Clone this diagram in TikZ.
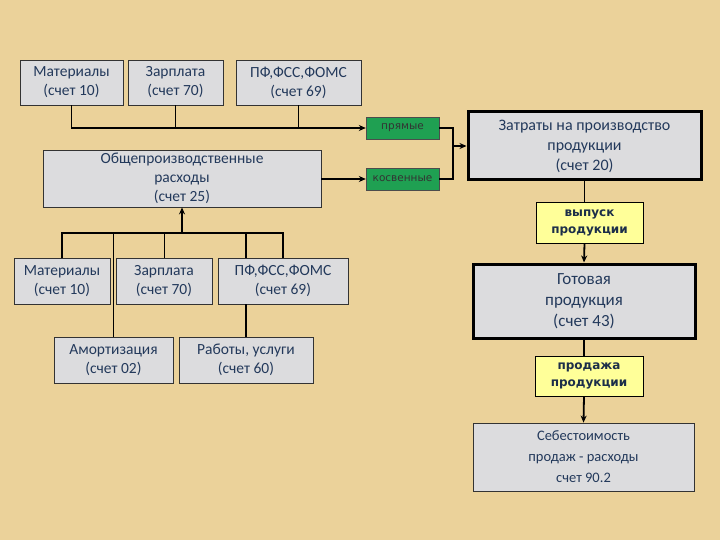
\documentclass[tikz,border=0pt]{standalone}
\usepackage{fontspec}
\setmainfont{Carlito}
\newfontfamily\flowfont{DejaVu Sans}
\definecolor{ledgerPaper}{HTML}{EBD29A}
\definecolor{ledgerGray}{HTML}{DCDCDE}
\definecolor{ledgerInk}{HTML}{23395B}
\definecolor{ledgerGreen}{HTML}{1FA052}
\definecolor{ledgerYellow}{HTML}{FFFF99}
\usetikzlibrary{arrows.meta, positioning}

\begin{document}
\begin{tikzpicture}[
        x=1pt, y=-1pt,
        acct/.style={
          draw=black!80,
          fill=ledgerGray,
          text=ledgerInk,
          align=center,
          inner sep=0pt,
          line width=0.8pt,
          font=\fontsize{15.5}{19}\selectfont,
        },
        mainacct/.style={acct, draw=black, line width=3pt},
        costkind/.style={
          draw=black!70,
          fill=ledgerGreen,
          text=black!80,
          minimum width=73pt,
          minimum height=22pt,
          inner sep=0pt,
          font=\flowfont\fontsize{10.5}{12}\selectfont,
        },
        flowlabel/.style={acct, fill=ledgerYellow, draw=black, text=ledgerInk!80!black, font=\flowfont\bfseries\fontsize{12}{17}\selectfont},
        wire/.style={line width=1.8pt},
        thinwire/.style={line width=1pt},
        arr/.style={wire, -{Stealth[length=7pt, width=6pt]}},
      ]
        \fill[ledgerPaper] (0,0) rectangle (720,540);

        \node[acct, minimum width=103pt, minimum height=45pt] (mat1) at (71.5,82.5) {Материалы\\(счет 10)};
        \node[acct, minimum width=95pt, minimum height=45pt] (zp1) at (175.5,82.5) {Зарплата\\(счет 70)};
        \node[acct, minimum width=125pt, minimum height=45pt] (pf1) at (298.5,82.5) {ПФ,ФСС,ФОМС\\(счет 69)};

        \node[acct, minimum width=278pt, minimum height=57pt] (opr) at (182,178.5) {Общепроизводственные\\расходы\\(счет 25)};

        \node[costkind] (direct) at (402.5,128) {прямые};
        \node[costkind] (indirect) at (402.5,179) {косвенные};

        \node[mainacct, minimum width=233pt, minimum height=68pt, font=\fontsize{16}{20}\selectfont] (cost20) at (584.5,146) {Затраты на производство\\продукции\\(счет 20)};
        \node[flowlabel, minimum width=107pt, minimum height=41pt] (release) at (589.5,222.5) {выпуск\\продукции};
        \node[mainacct, minimum width=222pt, minimum height=74pt, font=\fontsize{17}{21}\selectfont] (fin43) at (584,301) {Готовая\\продукция\\(счет 43)};
        \node[flowlabel, minimum width=108pt, minimum height=40pt] (sale) at (589,376) {продажа\\продукции};
        \node[acct, minimum width=221pt, minimum height=68pt, font=\fontsize{14.5}{21}\selectfont] (cogs) at (583.5,457) {Себестоимость\\продаж - расходы\\счет 90.2};

        \node[acct, minimum width=96pt, minimum height=46pt] (mat2) at (62,281) {Материалы\\(счет 10)};
        \node[acct, minimum width=96pt, minimum height=46pt] (zp2) at (164,281) {Зарплата\\(счет 70)};
        \node[acct, minimum width=130pt, minimum height=46pt] (pf2) at (283,281) {ПФ,ФСС,ФОМС\\(счет 69)};
        \node[acct, minimum width=119pt, minimum height=46pt] (amort) at (113.5,360) {Амортизация\\(счет 02)};
        \node[acct, minimum width=134pt, minimum height=46pt] (works) at (246,360) {Работы, услуги\\(счет 60)};

        \coordinate (merge) at (453,146);
        \coordinate (gather) at (182,233);

        \draw[arr] (mat1.south) |- (direct.west);
        \draw[wire] (zp1.south) -- (zp1.south |- direct.west);
        \draw[thinwire] (pf1.south) -- (pf1.south |- direct.west);
        \draw[arr] (opr.east |- indirect.west) -- (indirect.west);
        \draw[thinwire, line width=1.3pt] (direct.east) -| (merge) |- (indirect.east);
        \draw[arr, line width=1.3pt] (merge) -- (merge -| cost20.west);

        \draw[wire] (cost20.south) -- (cost20.south |- release.north);
        \draw[arr] (cost20.south |- release.south) -- (fin43.north);
        \draw[wire] (fin43.south) -- (fin43.south |- sale.north);
        \draw[arr] (fin43.south |- sale.south) -- (cogs.north);

        \draw[wire] (mat2.north) |- (gather) -| (pf2.north);
        \draw[thinwire] (zp2.north) -- (zp2.north |- gather);
        \draw[thinwire, line width=1.3pt] (amort.north) -- (amort.north |- gather);
        \draw[wire] (works.north) -- (works.north |- pf2.south);
        \draw[wire] (works.north |- pf2.north) -- (works.north |- gather);
        \draw[arr, line width=1.3pt] (gather) -- (opr.south);
      \end{tikzpicture}
\end{document}
